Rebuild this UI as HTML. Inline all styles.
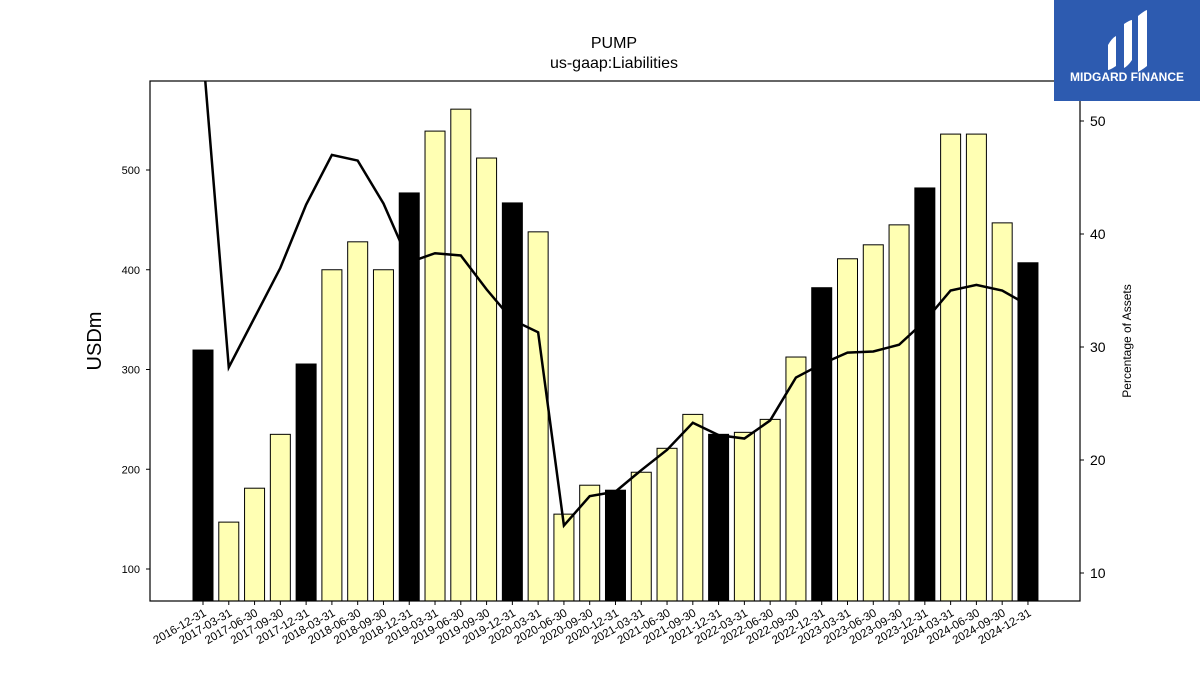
<!DOCTYPE html>
<html><head><meta charset="utf-8"><style>
body{margin:0;background:#fff;font-family:"Liberation Sans","DejaVu Sans",sans-serif}
</style></head><body>
<svg id="c" width="1200" height="675" xmlns="http://www.w3.org/2000/svg">
<rect width="1200" height="675" fill="#fff"/>
<text x="614" y="48" font-size="16" text-anchor="middle">PUMP</text>
<text x="614" y="68" font-size="16" text-anchor="middle">us-gaap:Liabilities</text>
<g id="bars"></g><g id="line"></g><g id="axes"></g>
<text transform="translate(101,341) rotate(-90)" font-size="20" text-anchor="middle">USDm</text>
<text transform="translate(1131,341) rotate(-90)" font-size="12" text-anchor="middle">Percentage of Assets</text>
<g>
<rect x="1054" y="0" width="146" height="101" fill="#2d5bb0"/>
<path d="M1108 45 Q1112 38 1116 36 L1116 66 Q1110 70 1108 70 Z" fill="#fff"/>
<path d="M1124 24 Q1130 20 1132 20 L1132 60 Q1128 66 1124 68 Z" fill="#fff"/>
<path d="M1138 16 Q1144 11 1147 10 L1147 66 Q1142 70 1138 72 Z" fill="#fff"/>
<text x="1127" y="81" font-size="12" font-weight="bold" fill="#fff" text-anchor="middle">MIDGARD FINANCE</text>
</g>
</svg>
<script>
const categories=["2016-12-31","2017-03-31","2017-06-30","2017-09-30","2017-12-31","2018-03-31","2018-06-30","2018-09-30","2018-12-31","2019-03-31","2019-06-30","2019-09-30","2019-12-31","2020-03-31","2020-06-30","2020-09-30","2020-12-31","2021-03-31","2021-06-30","2021-09-30","2021-12-31","2022-03-31","2022-06-30","2022-09-30","2022-12-31","2023-03-31","2023-06-30","2023-09-30","2023-12-31","2024-03-31","2024-06-30","2024-09-30","2024-12-31"];
const liabilities=[319.5,147,181,235,305.5,400,428,400,477,539,561,512,467,438,155,184,179,197,221,255,235,237,250,312.5,382,411,425,445,482,536,536,447,407];
const pctAssets=[56,28.2,32.6,37.0,42.6,47.0,46.5,42.7,37.5,38.3,38.1,35.1,32.4,31.3,14.2,16.8,17.2,19.1,20.9,23.3,22.2,21.9,23.5,27.3,28.5,29.5,29.6,30.2,32.3,35.0,35.5,35.0,33.7];
const leftTicks=[100,200,300,400,500];
const rightTicks=[10,20,30,40,50];
const NS="http://www.w3.org/2000/svg";
const L=150,R=1080,T=81,B=601;
const yL=v=>569-(v-100)*0.9975;
const yR=v=>573-(v-10)*11.3;
const xC=i=>203+i*25.78;
function mk(t,a,p){const e=document.createElementNS(NS,t);for(const k in a)e.setAttribute(k,a[k]);p.appendChild(e);return e;}
const bars=document.getElementById('bars'),line=document.getElementById('line'),axes=document.getElementById('axes');
liabilities.forEach((v,i)=>{const q=categories[i].endsWith("12-31");
const r=mk('rect',{x:xC(i)-10,y:yL(v),width:20,height:B-yL(v),fill:q?'#000':'#ffffb3',stroke:'#000','stroke-width':1},bars);

});
mk('clipPath',{id:'cp'},line).appendChild(Object.assign(document.createElementNS(NS,'rect'),{}));
line.querySelector('clipPath').firstChild.setAttribute('x',L);line.querySelector('clipPath').firstChild.setAttribute('y',T);
line.querySelector('clipPath').firstChild.setAttribute('width',R-L);line.querySelector('clipPath').firstChild.setAttribute('height',B-T);
const pl=mk('polyline',{points:pctAssets.map((v,i)=>xC(i)+','+yR(v)).join(' '),fill:'none',stroke:'#000','stroke-width':2.5,'clip-path':'url(#cp)'},line);


const fr=mk('rect',{x:L,y:T,width:R-L,height:B-T,fill:'none',stroke:'#000','stroke-width':1.2},axes);


leftTicks.forEach(v=>{const y=yL(v);mk('line',{x1:L-4,x2:L,y1:y,y2:y,stroke:'#000'},axes);
const t=mk('text',{x:L-10,y:y+4,'font-size':11,'text-anchor':'end'},axes);t.textContent=v;

});
rightTicks.forEach(v=>{const y=yR(v);mk('line',{x1:R,x2:R+4,y1:y,y2:y,stroke:'#000'},axes);
const t=mk('text',{x:R+10,y:y+5,'font-size':14},axes);t.textContent=v;

});
categories.forEach((c,i)=>{const x=xC(i);mk('line',{x1:x,x2:x,y1:B,y2:B+4,stroke:'#000'},axes);
const t=mk('text',{x:0,y:0,'font-size':11.5,'text-anchor':'end',transform:`translate(${x+4},${B+14}) rotate(-30)`},axes);t.textContent=c;

});
</script>
</body></html>
